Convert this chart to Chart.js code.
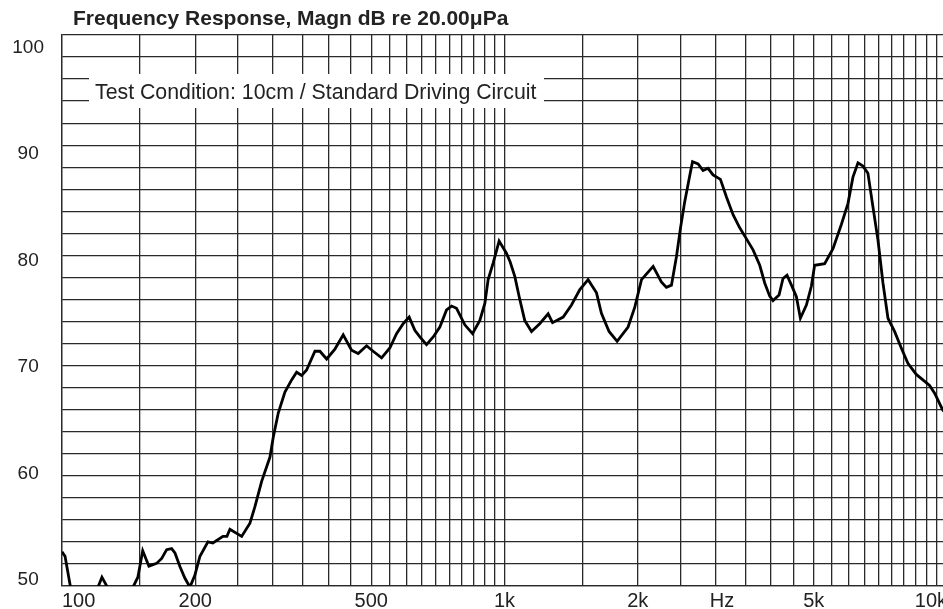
<!DOCTYPE html>
<html>
<head>
<meta charset="utf-8">
<script src="https://cdn.jsdelivr.net/npm/chart.js@4.4.0/dist/chart.umd.min.js"></script>
<style>
  html, body { margin: 0; padding: 0; background: #fff; overflow: hidden; }
  #wrap { width: 943px; height: 609px; overflow: hidden; }
  canvas { display: block; }
</style>
</head>
<body>
<div id="wrap"><canvas id="fr" width="952" height="609"></canvas></div>
<script>
// frequency (Hz) and level (dB)
const freqHz = [
  100, 101.6, 106, 115, 120.6, 123.1, 127, 131, 140, 144.7, 148.4, 152.2, 157.2, 163.6,
  168, 172.4, 176.9, 180, 184.8, 189.6, 194.6, 199.7, 205, 213.7, 219.3, 231, 235.9,
  239.6, 254.7, 265.9, 272.9, 282.6, 295.1, 300.2, 308.1, 319, 330.3, 339, 348, 357.1,
  372.9, 382.7, 396.3, 413.8, 432, 451.2, 467, 487.9, 504.9, 527.5, 550.7, 570.2, 590.2,
  608.9, 627.2, 643.7, 666.5, 690, 714.4, 739.6, 759.1, 779.1, 813.4, 846.7, 879.5,
  902.7, 918.4, 942.5, 972.4, 1010, 1030, 1055, 1080, 1111, 1151, 1201, 1255, 1284,
  1357, 1417, 1480, 1545, 1614, 1656, 1723, 1797, 1902, 1970, 2040, 2167, 2262, 2322,
  2384, 2447, 2499, 2555, 2621, 2660, 2738, 2810, 2884, 2960, 3076, 3174, 3285, 3401,
  3522, 3645, 3774, 3873, 3975, 4044, 4173, 4260, 4350, 4451, 4567, 4663, 4811, 4937,
  5022, 5291, 5525, 5771, 5972, 6130, 6292, 6457, 6627, 6802, 6982, 7166, 7355, 7612,
  7883, 8159, 8522, 8820, 9134, 9376, 9772, 10000
];
const splDb = [
  53.1, 52.7, 48.5, 47.5, 49.9, 50.8, 49.8, 48.5, 48.5, 49.9, 50.8, 53.2, 51.8, 52.05,
  52.5, 53.3, 53.4, 53.0, 51.75, 50.7, 49.9, 51.0, 52.7, 54.0, 53.9, 54.5, 54.5,
  55.15, 54.5, 55.7, 57.2, 59.5, 61.7, 63.5, 65.7, 67.6, 68.7, 69.4, 69.1, 69.6,
  71.3, 71.3, 70.6, 71.5, 72.8, 71.4, 71.1, 71.8, 71.3, 70.7, 71.6, 72.9, 73.8,
  74.4, 73.2, 72.6, 71.9, 72.6, 73.5, 75.05, 75.4, 75.2, 73.7, 72.9, 74.1,
  75.65, 77.8, 79.3, 81.3, 80.2, 79.4, 78.1, 76.2, 74.1, 73.1, 73.8, 74.7, 73.9,
  74.4, 75.5, 76.9, 77.8, 76.6, 74.75, 73.1, 72.2, 73.5, 75.3, 77.8, 79.0, 77.6, 77.1,
  77.3, 79.9, 82.5, 84.9, 87.2, 88.5, 88.3, 87.7, 87.9, 87.3, 86.9, 85.3, 83.7, 82.5,
  81.5, 80.5, 79.1, 77.5, 76.3, 75.9, 76.4, 77.9, 78.2, 77.3, 76.25, 74.3, 75.5, 77.2,
  79.1, 79.25, 80.6, 82.8, 84.7, 87.1, 88.4, 88.1, 87.45, 84.4, 81.4, 77.5, 74.3, 73.1,
  71.6, 70.2, 69.2, 68.7, 68.2, 67.5, 66.0, 65.5
];

// axis labels
const xLabelValues = [100, 200, 500, 1000, 2000, 3100, 5000, 10000];
const xLabelTexts = ['100', '200', '500', '1k', '2k', 'Hz', '5k', '10k'];
const yLabelValues = [50, 60, 70, 80, 90, 100];

const titleText = 'Frequency Response, Magn dB re 20.00\u03bcPa';
const noteText = 'Test Condition: 10cm / Standard Driving Circuit';

// grid: every 50 Hz up to 1k, every 500 Hz above
const gridFreqs = [];
for (let f = 100; f <= 1000; f += 50) gridFreqs.push(f);
for (let f = 1500; f <= 10000; f += 500) gridFreqs.push(f);

const FONT = '"Liberation Sans", Arial, Helvetica, sans-serif';
const GRID = '#2a2a2a';
const TEXT = '#222';

// title and test-condition box
const labelsPlugin = {
  id: 'labels',
  afterDraw(chart) {
    const ctx = chart.ctx;
    ctx.save();
    ctx.fillStyle = TEXT;
    ctx.textBaseline = 'alphabetic';
    ctx.textAlign = 'left';
    ctx.font = 'bold 21px ' + FONT;
    ctx.fillText(titleText, 73, 25);

    ctx.fillStyle = '#fff';
    ctx.fillRect(89, 74, 455, 34);
    ctx.fillStyle = TEXT;
    ctx.font = '21.3px ' + FONT;
    ctx.fillText(noteText, 95, 99);
    ctx.restore();
  }
};

new Chart(document.getElementById('fr').getContext('2d'), {
  type: 'line',
  data: {
    datasets: [{
      data: freqHz.map((f, i) => ({ x: f, y: splDb[i] })),
      xAxisID: 'x',
      yAxisID: 'y',
      borderColor: '#000',
      borderWidth: 2.8,
      pointRadius: 0,
      tension: 0,
      fill: false
    }]
  },
  options: {
    responsive: false,
    animation: false,
    layout: { padding: { top: 35, right: 5, bottom: 0, left: 0 } },
    plugins: { legend: { display: false }, tooltip: { enabled: false } },
    scales: {
      x: {
        type: 'logarithmic',
        min: 100,
        max: 10000,
        afterBuildTicks: s => { s.ticks = gridFreqs.map(v => ({ value: v })); },
        afterFit: s => { s.height = 0; },
        ticks: { display: false },
        grid: { color: GRID, lineWidth: 1.3, drawTicks: false },
        border: { color: GRID, width: 1.3 }
      },
      xLab: {
        type: 'logarithmic',
        position: 'bottom',
        weight: 1,
        min: 100,
        max: 10000,
        afterBuildTicks: s => { s.ticks = xLabelValues.map(v => ({ value: v })); },
        afterFit: s => { s.height = 23; },
        ticks: {
          autoSkip: false,
          maxRotation: 0,
          align: 'inner',
          padding: 3,
          color: TEXT,
          font: { family: FONT, size: 20 },
          callback: (v, i) => xLabelTexts[i]
        },
        grid: { display: false, drawTicks: false },
        border: { display: false }
      },
      y: {
        min: 50,
        max: 100,
        afterFit: s => { s.width = 0; },
        ticks: { stepSize: 2, display: false },
        grid: { color: GRID, lineWidth: 1.3, drawTicks: false },
        border: { color: GRID, width: 1.3 }
      },
      yLab: {
        position: 'left',
        weight: 1,
        min: 49.44,
        max: 101.18,
        afterBuildTicks: s => { s.ticks = yLabelValues.map(v => ({ value: v })); },
        afterFit: s => {
          s.width = 62;
          s.paddingTop = 0;
          s.paddingBottom = 0;
        },
        ticks: {
          crossAlign: 'center',
          padding: 18,
          color: TEXT,
          font: { family: FONT, size: 19 }
        },
        grid: { display: false, drawTicks: false },
        border: { display: false }
      }
    }
  },
  plugins: [labelsPlugin]
});
</script>
</body>
</html>
